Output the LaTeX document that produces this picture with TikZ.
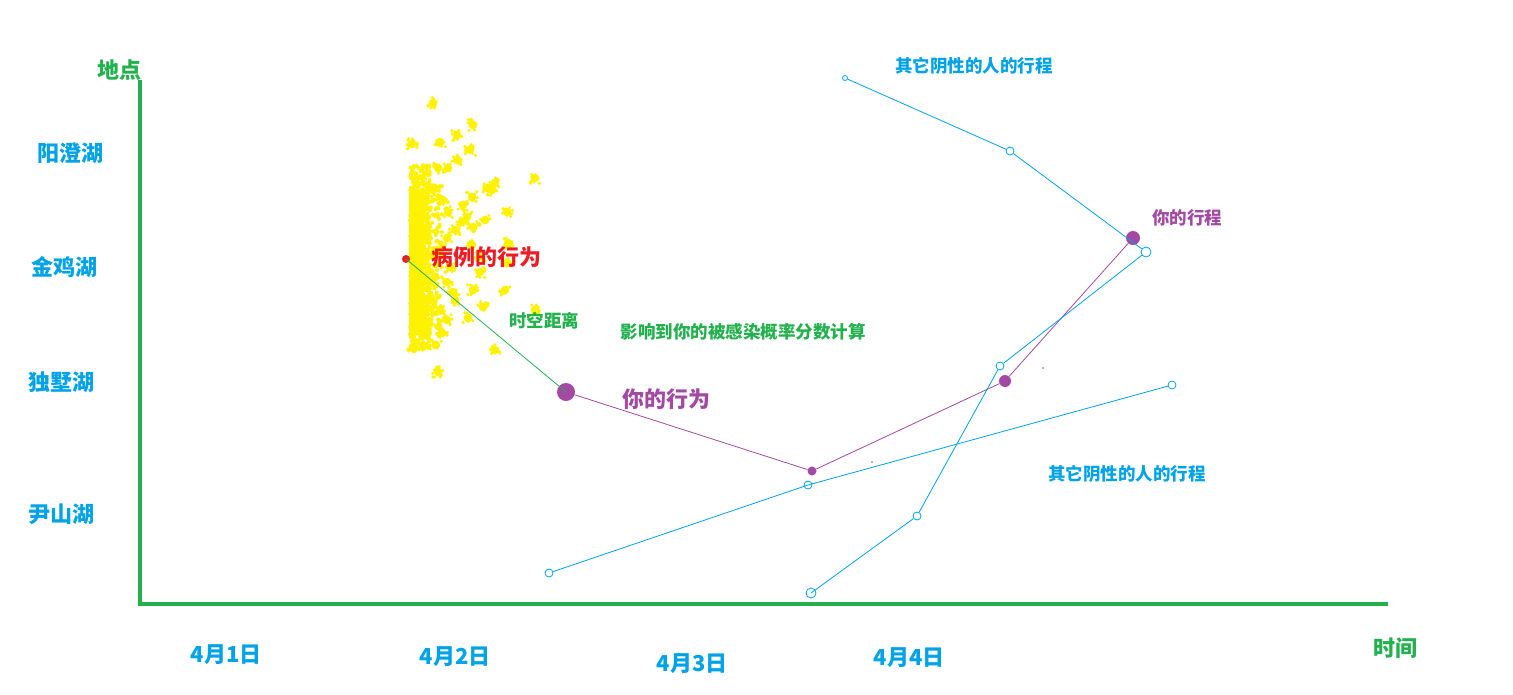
\documentclass[tikz,border=0pt]{standalone}
\usepackage{fontspec}
\newfontfamily\cjk{Noto Sans CJK SC}
\definecolor{pblue}{RGB}{0,162,232}
\definecolor{pgreen}{RGB}{34,177,76}
\definecolor{ppurple}{RGB}{163,73,164}
\definecolor{pred}{RGB}{237,28,36}
\definecolor{pyellow}{RGB}{255,242,0}
\begin{document}
\begin{tikzpicture}[x=1pt,y=-1pt,
  lbl/.style={inner sep=0pt,font=\cjk\bfseries\fontsize{#1}{#1}\selectfont},
  lbl/.default=22,
  opendot/.style={circle,draw=pblue,line width=0.8pt,inner sep=0pt,minimum size=#1},
  fulldot/.style={circle,fill=ppurple,inner sep=0pt,minimum size=#1},
  bline/.style={pblue,line width=0.8pt},
  pline/.style={ppurple,line width=0.8pt},
  axis/.style={pgreen,line width=4pt}]
\useasboundingbox (0,0) rectangle (1513,694);
% axes
\coordinate (otop) at (140,80);
\coordinate (orig) at (140,604);
\coordinate (xend) at (1388,604);
\draw[axis] (otop) -- (orig) -- (xend);
\node[lbl=22,text=pgreen] (ylab) at (119,70) {地点};
\node[lbl=22,text=pgreen] (xlab) at (1395,648) {时间};
% place labels
\node[lbl=22,text=pblue] (l1) at (70,153) {阳澄湖};
\node[lbl=22,text=pblue] (l2) at (64,267) {金鸡湖};
\node[lbl=22,text=pblue] (l3) at (61,382) {独墅湖};
\node[lbl=22,text=pblue] (l4) at (61,514) {尹山湖};
% date labels
\node[lbl=22,text=pblue] (d1) at (226,655) {4月1日};
\node[lbl=22,text=pblue] (d2) at (455,657) {4月2日};
\node[lbl=22,text=pblue] (d3) at (692,664) {4月3日};
\node[lbl=22,text=pblue] (d4) at (909,658) {4月4日};
% yellow cloud
\pgfmathsetseed{12}
\fill[pyellow] (409,190) rectangle (424,335);
\foreach \i in {1,...,700}{
  \fill[pyellow] ({410+20*rnd},{165+185*rnd}) circle (2);
}
\foreach \i in {1,...,300}{
  \fill[pyellow] ({412+30*rnd},{185+150*rnd}) circle (2);
}
\foreach \cx/\cy in {433/103,473/125,457/135,440/142,412/144,470/150,457/160,438/168,448/168,
  495/183,535/178,487/188,433/190,443/200,472/197,463/205,448/212,507/212,467/217,485/220,
  473/227,455/230,447/238,508/243,472/245,480/257,480/272,450/267,507/263,447/282,473/290,
  505/290,453/292,483/307,535/310,440/310,447/320,468/318,423/323,442/333,413/347,495/350,438/372,
  428/255,430/280,432/300,425/230,436/345,492/190,416/270,462/222,440/250,455/300}{
  \fill[pyellow] (\cx,\cy) circle (4.3);
  \foreach \j in {1,...,12}{
    \fill[pyellow] ({\cx+5.5*rand},{\cy+5.5*rand}) circle (1.7);
  }
}
% case point and your behaviour
\node[circle,fill=pred,inner sep=0pt,minimum size=8pt] (case) at (406,259) {};
\node[fulldot=18pt] (y1) at (566,392) {};
\node[fulldot=9pt] (y2) at (812,471) {};
\node[fulldot=12pt] (y3) at (1005,381) {};
\node[fulldot=14pt] (y4) at (1133,238) {};
\draw[pgreen,line width=0.8pt] (case.center) -- (y1.center);
\draw[pline] (y1) -- (y2) -- (y3) -- (y4);
\fill[ppurple] (1043,368) circle (0.9);
\fill[ppurple] (872,462) circle (0.9);
% other negative persons
\node[opendot=5pt] (a1) at (845,78) {};
\node[opendot=8pt] (a2) at (1010,151) {};
\node[opendot=10pt] (a3) at (1146,252) {};
\node[opendot=10pt] (b1) at (811,593) {};
\node[opendot=8pt] (b2) at (917,516) {};
\node[opendot=8pt] (b3) at (1000,366) {};
\node[opendot=8pt] (c1) at (549,573) {};
\node[opendot=8pt] (c2) at (808,485) {};
\node[opendot=8pt] (c3) at (1172,385) {};
\draw[bline] (a1) -- (a2) -- (a3);
\draw[bline] (b1.center) -- (b2) -- (b3) -- (a3);
\draw[bline] (c1) -- (c2.center) -- (c3);
% text labels
\node[lbl=22,text=pred] (tcase) at (486,257) {病例的行为};
\node[lbl=17.5,text=pgreen] (tdist) at (544,321) {时空距离};
\node[lbl=17.5,text=pgreen] (tcalc) at (743,332) {影响到你的被感染概率分数计算};
\node[lbl=22,text=ppurple] (tyou) at (666,399) {你的行为};
\node[lbl=17.5,text=ppurple] (tyour) at (1187,218) {你的行程};
\node[lbl=17.5,text=pblue] (tneg1) at (974,66) {其它阴性的人的行程};
\node[lbl=17.5,text=pblue] (tneg2) at (1127,474) {其它阴性的人的行程};
\end{tikzpicture}
\end{document}
